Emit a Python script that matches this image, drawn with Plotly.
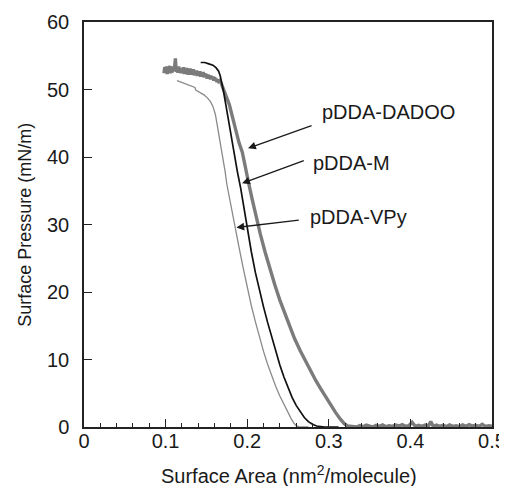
import plotly.graph_objects as go

# ---------------- data ----------------
dadoo_x = [0.098, 0.099, 0.100, 0.101, 0.102, 0.103, 0.104, 0.105, 0.106, 0.107,
           0.108, 0.109, 0.110, 0.111, 0.112, 0.113, 0.114, 0.115, 0.116, 0.117,
           0.118, 0.119, 0.120, 0.121, 0.122, 0.123, 0.124, 0.125, 0.126, 0.127,
           0.128, 0.129, 0.130, 0.131, 0.132, 0.133, 0.134, 0.135, 0.136, 0.137,
           0.138, 0.139, 0.140, 0.141, 0.142, 0.143, 0.144, 0.145, 0.146, 0.147,
           0.148, 0.149, 0.150, 0.151, 0.152, 0.153, 0.154, 0.155, 0.156, 0.157,
           0.158, 0.159, 0.160, 0.161, 0.162, 0.163, 0.164, 0.165, 0.166,
           0.168, 0.170, 0.174, 0.178, 0.182, 0.186, 0.190, 0.194, 0.198, 0.202,
           0.206, 0.210, 0.216, 0.222, 0.228, 0.234, 0.240, 0.246, 0.252, 0.258,
           0.265, 0.272, 0.278, 0.284, 0.290, 0.296, 0.302, 0.308, 0.314, 0.319,
           0.323, 0.327,
           0.330, 0.334, 0.338, 0.342, 0.346, 0.350, 0.354, 0.358, 0.362, 0.366,
           0.370, 0.374, 0.378, 0.382, 0.386, 0.390, 0.394, 0.398, 0.402, 0.406,
           0.410, 0.414, 0.418, 0.422, 0.425, 0.428, 0.432, 0.436, 0.440, 0.444,
           0.448, 0.452, 0.456, 0.460, 0.464, 0.468, 0.472, 0.476, 0.480, 0.484,
           0.488, 0.492, 0.496, 0.500]
dadoo_y = [52.4, 53.3, 52.6, 53.4, 52.3, 53.2, 52.7, 53.5, 52.4, 53.1,
           52.5, 53.4, 52.8, 53.2, 54.6, 52.6, 53.3, 52.5, 53.4, 52.7,
           53.2, 52.4, 53.1, 52.6, 53.3, 52.3, 53.0, 52.6, 53.2, 52.2,
           52.9, 52.5, 53.1, 52.2, 52.8, 52.4, 53.0, 52.1, 52.7, 52.3,
           52.8, 52.0, 52.6, 52.2, 52.7, 51.9, 52.5, 52.0, 52.6, 51.8,
           52.4, 51.9, 52.3, 51.6, 52.2, 51.8, 52.1, 51.5, 52.0, 51.6,
           51.9, 51.3, 51.8, 51.4, 51.6, 51.1, 51.5, 51.2, 51.3,
           51.0, 50.3, 49.0, 47.8, 45.9, 43.8, 42.1, 40.7, 38.6, 36.0,
           33.8, 31.6, 28.6, 25.9, 23.3, 21.0, 18.8, 16.8, 14.9, 13.1,
           11.3, 9.6, 8.2, 6.9, 5.7, 4.5, 3.3, 2.2, 1.2, 0.5,
           0.15, 0.05,
           0.10, 0.00, 0.20, 0.05, 0.30, 0.10, 0.00, 0.25, 0.10, 0.30,
           0.05, 0.20, 0.10, 0.30, 0.15, 0.35, 0.10, 0.20, 0.70, 0.10,
           0.25, 0.10, 0.30, 0.15, 0.80, 0.10, 0.30, 0.10, 0.25, 0.05,
           0.30, 0.10, 0.20, 0.05, 0.30, 0.10, 0.35, 0.15, 0.25, 0.10,
           0.40, 0.10, 0.20, 0.10]

m_x = [0.143, 0.148, 0.153, 0.158, 0.162, 0.165, 0.167, 0.169, 0.171, 0.174,
       0.177, 0.180, 0.184, 0.188, 0.192, 0.196, 0.200, 0.205, 0.210, 0.215,
       0.220, 0.225, 0.230, 0.235, 0.240, 0.245, 0.250, 0.255, 0.260, 0.265,
       0.270, 0.275, 0.280, 0.285, 0.290, 0.295, 0.305, 0.312]
m_y = [54.0, 54.0, 53.8, 53.6, 53.2, 52.7, 52.0, 50.9, 49.7, 47.6,
       45.4, 43.2, 40.4, 37.8, 35.4, 32.4, 29.4, 26.0, 22.9, 20.2,
       17.8, 15.5, 13.3, 11.2, 9.2, 7.4, 5.8, 4.4, 3.2, 2.2,
       1.4, 0.8, 0.4, 0.15, 0.05, 0.0, 0.0, 0.0]

vpy_x = [0.114, 0.120, 0.126, 0.132, 0.136, 0.137, 0.142, 0.147, 0.151, 0.155,
         0.158, 0.161, 0.163, 0.165, 0.167, 0.169, 0.171, 0.173, 0.175, 0.178,
         0.181, 0.185, 0.190, 0.195, 0.200, 0.205, 0.210, 0.215, 0.220, 0.225,
         0.230, 0.235, 0.240, 0.245, 0.250, 0.254, 0.257, 0.260, 0.263, 0.268,
         0.275]
vpy_y = [51.3, 51.0, 50.8, 50.5, 50.3, 49.9, 49.6, 49.2, 48.8, 48.2,
         47.5, 46.3, 44.9, 43.6, 42.3, 40.9, 39.5, 37.8, 36.0, 34.0,
         32.0, 29.7, 26.6, 23.6, 20.7, 18.0, 15.6, 13.3, 11.2, 9.3,
         7.6, 6.0, 4.6, 3.3, 2.1, 1.2, 0.6, 0.2, 0.05, 0.0,
         0.0]

x_ticks = [0, 0.1, 0.2, 0.3, 0.4, 0.5]
x_ticklabels = ["0", "0.1", "0.2", "0.3", "0.4", "0.5"]
y_ticks = [0, 10, 20, 30, 40, 50, 60]

labels = ["pDDA-DADOO", "pDDA-M", "pDDA-VPy"]
label_pos = [(0.2896, 46.6), (0.2786, 39.1), (0.2746, 31.1)]
arrow_tail = [(0.2807, 44.74), (0.2712, 39.56), (0.2651, 30.67)]
arrow_tip = [(0.2010, 41.3), (0.1937, 36.1), (0.1867, 29.56)]

FONT = "Liberation Sans, Arial, Helvetica, sans-serif"

fig = go.Figure()
fig.add_trace(go.Scatter(x=vpy_x, y=vpy_y, mode="lines", name="pDDA-VPy",
                         line=dict(color="#8a8a8a", width=1.3)))
fig.add_trace(go.Scatter(x=dadoo_x, y=dadoo_y, mode="lines", name="pDDA-DADOO",
                         line=dict(color="#7b7b7b", width=3.4)))
fig.add_trace(go.Scatter(x=m_x, y=m_y, mode="lines", name="pDDA-M",
                         line=dict(color="#111111", width=1.7)))

annotations = []
for (tx, ty), (hx, hy) in zip(arrow_tail, arrow_tip):
    annotations.append(dict(x=hx, y=hy, ax=tx, ay=ty, xref="x", yref="y",
                            axref="x", ayref="y", text="", showarrow=True,
                            arrowhead=2, arrowsize=1.2, arrowwidth=1.3,
                            arrowcolor="#1a1a1a", standoff=0))
for lab, (lx, ly) in zip(labels, label_pos):
    annotations.append(dict(x=lx, y=ly, xref="x", yref="y", text=lab,
                            showarrow=False, xanchor="left", yanchor="middle",
                            font=dict(family=FONT, size=20, color="#1a1a1a")))
annotations.append(dict(x=0.502, y=-0.117, xref="paper", yref="paper",
                        text="Surface Area (nm<sup>2</sup>/molecule)",
                        showarrow=False, xanchor="center", yanchor="middle",
                        font=dict(family=FONT, size=20, color="#1a1a1a")))
annotations.append(dict(x=-0.145, y=0.499, xref="paper", yref="paper",
                        text="Surface Pressure (mN/m)", textangle=-90,
                        showarrow=False, xanchor="center", yanchor="middle",
                        font=dict(family=FONT, size=18, color="#1a1a1a")))

# the page body adds an 8 px offset, so the figure is sized to fill the rest
fig.update_layout(
    template="none",
    width=499, height=478,
    margin=dict(l=76, r=15, t=14, b=59, autoexpand=False),
    paper_bgcolor="white", plot_bgcolor="white",
    showlegend=False,
    font=dict(family=FONT, size=20, color="#1a1a1a"),
    annotations=annotations,
    xaxis=dict(range=[0, 0.5], tickvals=x_ticks, ticktext=x_ticklabels,
               automargin=False, ticklabelstandoff=-5,
               ticks="inside", ticklen=8, tickwidth=1.2, tickcolor="#222",
               showline=True, linecolor="#222", linewidth=1.5, mirror=True,
               showgrid=False, zeroline=False,
               minor=dict(ticks="inside", ticklen=4, dtick=0.02, tick0=0,
                          tickwidth=1, tickcolor="#222", showgrid=False),
               tickfont=dict(family=FONT, size=20, color="#1a1a1a")),
    yaxis=dict(range=[0, 60], tickvals=y_ticks,
               automargin=False, ticklabelstandoff=9,
               ticks="inside", ticklen=8, tickwidth=1.2, tickcolor="#222",
               showline=True, linecolor="#222", linewidth=1.5, mirror=True,
               showgrid=False, zeroline=False,
               tickfont=dict(family=FONT, size=20, color="#1a1a1a")),
)

fig.write_html("out.html")
